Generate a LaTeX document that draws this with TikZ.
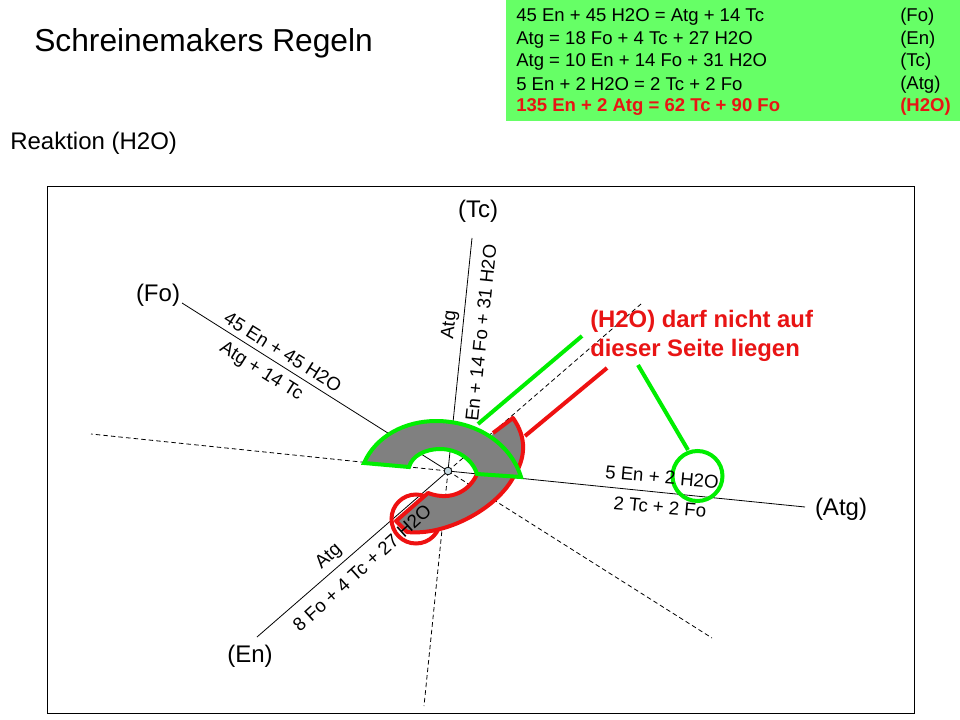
\documentclass[tikz,border=0pt]{standalone}
\usepackage{fontspec}
\setmainfont{Liberation Sans}
\definecolor{boxgreen}{HTML}{66FF66}
\definecolor{linegreen}{HTML}{00EE00}
\definecolor{linered}{HTML}{EE1111}
\definecolor{textred}{HTML}{E81414}
\definecolor{shapegray}{HTML}{808080}
\definecolor{dotblue}{HTML}{C4D8E0}
\tikzset{
	lab/.style={font=\fontsize{14}{16}\selectfont, inner sep=0pt},
	phase/.style={font=\fontsize{18}{20}\selectfont, inner sep=0pt},
	row/.style={font=\fontsize{13.9}{16}\selectfont, inner sep=0pt, anchor=west},
	redrow/.style={row, font=\fontsize{13.9}{16}\selectfont\bfseries, text=textred},
	warn/.style={font=\fontsize{17.9}{20}\selectfont\bfseries, inner sep=0pt, anchor=west, text=textred},
	solidline/.style={black, line width=0.6pt},
	dashline/.style={black, dash pattern=on 3.4pt off 2.3pt, line width=0.6pt},
	greenline/.style={linegreen, line width=3pt},
	redline/.style={linered, line width=3pt}
}
\begin{document}
\begin{tikzpicture}[x=0.75pt,y=-0.75pt]
	\useasboundingbox (0,0) rectangle (960,720);
	
	% green box
	\fill[boxgreen] (506,0) rectangle (960,121);
	\node[row] (r1) at (516,17) {45 En + 45 H2O = Atg + 14 Tc};
	\node[row] (r2) at (516,40) {Atg = 18 Fo + 4 Tc + 27 H2O};
	\node[row] (r3) at (516,62) {Atg = 10 En + 14 Fo + 31 H2O};
	\node[row] (r4) at (516,84.5) {5 En + 2 H2O = 2 Tc + 2 Fo};
	\node[redrow] (r5) at (516,107) {135 En + 2 Atg = 62 Tc + 90 Fo};
	\node[row] (p1) at (900,17) {(Fo)};
	\node[row] (p2) at (900,40) {(En)};
	\node[row] (p3) at (900,62) {(Tc)};
	\node[row] (p4) at (900,84.5) {(Atg)};
	\node[redrow] (p5) at (900,107) {(H2O)};
	
	% headings
	\node[font=\fontsize{23.8}{28}\selectfont, inner sep=0pt, anchor=west] (title) at (34,43) {Schreinemakers Regeln};
	\node[phase, anchor=west] (reaktion) at (10,143) {Reaktion (H2O)};
	
	% frame
	\draw[solidline] (47,186) rectangle (914,713);
	
	% end points
	\coordinate (center) at (448,471);
	\coordinate (fo) at (182,303);
	\coordinate (tc) at (472,238);
	\coordinate (atg) at (805,507);
	\coordinate (en) at (257,637);
	\coordinate (d1) at (91,434);
	\coordinate (d2) at (641,304);
	\coordinate (d3) at (712,638);
	\coordinate (d4) at (424,706);
	
	% dashed lines
	\draw[dashline] (center) -- (d1);
	\draw[dashline] (center) -- (d2);
	\draw[dashline] (center) -- (d3);
	\draw[dashline] (center) -- (d4);
	
	% solid lines
	\draw[solidline] (center) -- (fo);
	\draw[solidline] (center) -- (tc);
	\draw[solidline] (center) -- (atg);
	\draw[solidline] (center) -- (en);
	
	% red circle
	\draw[redline] (416,519) circle (24.5);
	
	% red half
	\draw[redline, fill=shapegray, line join=round]
	(477,474) .. controls (470,490) and (452,502) .. (428,493)
	-- (396,521)
	-- (407,532)
	.. controls (445,536) and (495,510) .. (513,478)
	.. controls (526,458) and (527,438) .. (513,418)
	-- (493,433);
	
	% green half
	\draw[greenline, fill=shapegray, line join=miter]
	(364,463)
	.. controls (376,436) and (405,421) .. (436,421)
	.. controls (475,421) and (510,442) .. (521,477)
	-- (477,474)
	.. controls (472,458) and (456,449) .. (440,449)
	.. controls (425,449) and (412,456) .. (409,467)
	-- cycle;
	
	% small circle
	\draw[solidline, fill=dotblue] (center) circle (3.8);
	
	% pointers
	\coordinate (ga) at (478,424);
	\coordinate (gb) at (582,336);
	\coordinate (ra) at (525,436);
	\coordinate (rb) at (607,368);
	\coordinate (gc) at (638,365);
	\coordinate (gd) at (688,450);
	\draw[greenline] (ga) -- (gb);
	\draw[redline] (ra) -- (rb);
	\draw[greenline] (gc) -- (gd);
	\draw[greenline] (697.5,476) circle (25);
	
	% phase labels
	\node[phase] (ltc) at (478,211) {(Tc)};
	\node[phase] (lfo) at (158,295) {(Fo)};
	\node[phase] (latg) at (841,509) {(Atg)};
	\node[phase] (len) at (250,656) {(En)};
	
	% line labels
	\node[lab, rotate=-32] (a1) at (283,352) {45 En + 45 H2O};
	\node[lab, rotate=-32] (a2) at (261,372) {Atg + 14 Tc};
	\node[lab, rotate=84] (a3) at (450,325) {Atg};
	\node[lab, rotate=84] (a4) at (481,333) {En + 14 Fo + 31 H2O};
	\node[lab, rotate=-5] (a5) at (662,477) {5 En + 2 H2O};
	\node[lab, rotate=-5] (a6) at (660,507) {2 Tc + 2 Fo};
	\node[lab, rotate=42] (a7) at (329,557) {Atg};
	\node[lab, rotate=42] (a8) at (362,568) {8 Fo + 4 Tc + 27 H2O};
	
	% warning
	\node[warn] (w1) at (590,321) {(H2O) darf nicht auf};
	\node[warn] (w2) at (590,350) {dieser Seite liegen};
	
\end{tikzpicture}
\end{document}
